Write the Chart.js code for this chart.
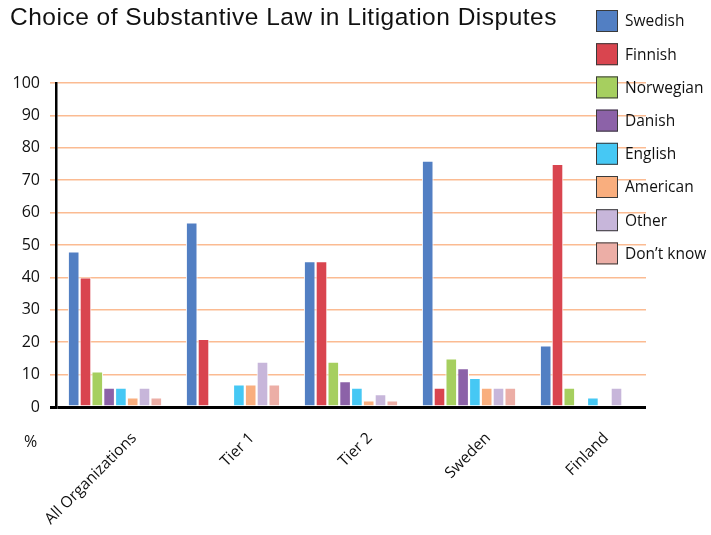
<!DOCTYPE html>
<html>
<head>
<meta charset="utf-8">
<script src="https://cdn.jsdelivr.net/npm/chart.js@4"></script>
<style>
  html, body { margin: 0; padding: 0; background: #fff; }
  #wrap { width: 711px; height: 535px; position: relative; }
</style>
</head>
<body>
<div id="wrap"><canvas id="c"></canvas></div>
<script>
// Share of respondents (%) choosing each governing law, by respondent group
const categories = ['All Organizations', 'Tier 1', 'Tier 2', 'Sweden', 'Finland'];
const seriesNames = ['Swedish', 'Finnish', 'Norwegian', 'Danish', 'English', 'American', 'Other', 'Don\u2019t know'];
const swedish   = [48, 57, 45, 76, 19];
const finnish   = [40, 21, 45,  6, 75];
const norwegian = [11,  0, 14, 15,  6];
const danish    = [ 6,  0,  8, 12,  0];
const english   = [ 6,  7,  6,  9,  3];
const american  = [ 3,  7,  2,  6,  0];
const other     = [ 6, 14,  4,  6,  6];
const dontKnow  = [ 3,  7,  2,  6,  0];
const yTickValues = [0, 10, 20, 30, 40, 50, 60, 70, 80, 90, 100];

const seriesValues = [swedish, finnish, norwegian, danish, english, american, other, dontKnow];
const seriesColors = ['#527fc3', '#d9454f', '#a6cf5f', '#8c62a8', '#46c8f4', '#f9ae7e', '#c7b6da', '#ecaea6'];

const TITLE = 'Choice of Substantive Law in Litigation Disputes';
const GRID_ORANGE = '#fbbb92';
const LABEL_FONT = '"Open Sans", "Noto Sans", sans-serif';

// Title, legend and unit label drawn on top of the plot
const decorations = {
  id: 'decorations',
  afterDraw(chart) {
    const ctx = chart.ctx;
    ctx.save();
    ctx.fillStyle = '#111';
    ctx.font = '24.5px "Liberation Sans", Arial, sans-serif';
    ctx.letterSpacing = '0.5px';
    ctx.textAlign = 'left';
    ctx.textBaseline = 'alphabetic';
    ctx.fillText(TITLE, 10, 25);
    ctx.letterSpacing = '0px';

    ctx.font = '16px ' + LABEL_FONT;
    ctx.textBaseline = 'middle';
    ctx.fillText('%', 24, 442);

    ctx.font = '15.5px ' + LABEL_FONT;
    chart.data.datasets.forEach((ds, i) => {
      const cy = 21 + i * 33.2;
      ctx.fillStyle = ds.backgroundColor;
      ctx.fillRect(596, cy - 11, 22, 22);
      ctx.strokeStyle = '#3a3a3a';
      ctx.lineWidth = 1;
      ctx.strokeRect(596.5, cy - 10.5, 21, 21);
      ctx.fillStyle = '#111';
      ctx.fillText(ds.label, 625, cy + 1);
    });
    ctx.restore();
  }
};

new Chart(document.getElementById('c'), {
  type: 'bar',
  data: {
    labels: categories,
    datasets: seriesNames.map((name, i) => ({
      label: name,
      data: seriesValues[i],
      backgroundColor: seriesColors[i],
      borderColor: '#ffffff',
      borderWidth: (c) => (c.raw ? 1.1 : 0),
      barPercentage: 1.0,
      categoryPercentage: 0.8
    }))
  },
  options: {
    responsive: true,
    maintainAspectRatio: false,
    animation: false,
    layout: { padding: { top: 83, right: 65, bottom: 0, left: 0 } },
    plugins: {
      legend: { display: false },
      title: { display: false },
      tooltip: { enabled: false }
    },
    scales: {
      x: {
        offset: true,
        grid: { display: false },
        border: { display: false },
        ticks: {
          color: '#111',
          font: { family: LABEL_FONT, size: 15.5 },
          minRotation: 45,
          maxRotation: 45,
          labelOffset: 19,
          padding: 14,
          autoSkip: false
        },
        afterFit(scale) { scale.height = 128; }
      },
      y: {
        min: 0,
        max: 100,
        afterBuildTicks(scale) { scale.ticks = yTickValues.map(v => ({ value: v })); },
        grid: {
          color: (c) => (c.tick && c.tick.value === 0 ? '#000' : GRID_ORANGE),
          lineWidth: (c) => (c.tick && c.tick.value === 0 ? 3 : 1.6),
          tickLength: 6
        },
        border: { color: '#000', width: 2.5 },
        ticks: {
          color: '#111',
          font: { family: LABEL_FONT, size: 16 },
          padding: 10
        },
        afterFit(scale) { scale.width = 56; }
      }
    }
  },
  plugins: [decorations]
});
</script>
</body>
</html>
